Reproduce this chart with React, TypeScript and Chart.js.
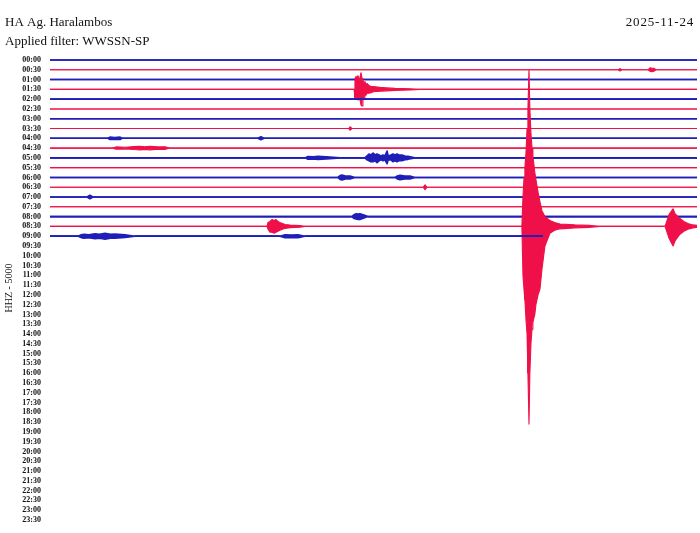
import { useEffect, useRef } from "react";
import { Chart, registerables } from "chart.js";

Chart.register(...registerables);

const STATION = "HA Ag. Haralambos";
const FILTER = "Applied filter: WWSSN-SP";
const DATE = "2025-11-24";
const CHANNEL = "HHZ - 5000";

const traceLabels = [
  "00:00", "00:30", "01:00", "01:30", "02:00", "02:30", "03:00", "03:30",
  "04:00", "04:30", "05:00", "05:30", "06:00", "06:30", "07:00", "07:30",
  "08:00", "08:30", "09:00", "09:30", "10:00", "10:30", "11:00", "11:30",
  "12:00", "12:30", "13:00", "13:30", "14:00", "14:30", "15:00", "15:30",
  "16:00", "16:30", "17:00", "17:30", "18:00", "18:30", "19:00", "19:30",
  "20:00", "20:30", "21:00", "21:30", "22:00", "22:30", "23:00", "23:30",
];

const MINUTES_PER_TRACE = 30;
const TRACE_SPACING = 10; // amplitude units between two traces
const RECORDED_TRACES = 19; // 00:00 .. 09:00
const LAST_TRACE_END = 22.86; // minutes recorded in the 09:00 trace

// events: [minute, up amplitude, down amplitude]
const ev0030 = [[26.34, 0, 0], [26.43, 1.2, 1.2], [26.52, 0, 0], [27.73, 0, 0], [27.82, 2, 1.5], [27.91, 1.5, 2], [28.0, 1.5, 1.5], [28.1, 0, 0]];
const ev0130 = [
  [14.1, 0, 0], [14.14, 11, 9], [14.19, 13, 10], [14.23, 9, 8], [14.28, 14, 11], [14.33, 10, 9],
  [14.37, 12, 10], [14.42, 17, 16], [14.47, 11, 17], [14.51, 9, 8], [14.56, 7, 9], [14.6, 8, 6],
  [14.65, 5, 6], [14.7, 6, 4], [14.79, 4, 4], [14.88, 3, 3.5], [15.0, 3, 2.5], [15.3, 2, 2],
  [15.6, 1.5, 1.5], [16.0, 1, 1], [16.7, 0.6, 0.6], [17.16, 0, 0],
];
const ev0330 = [[13.86, 0, 0], [13.91, 1.8, 1.8], [14.0, 0, 0]];
const ev0400 = [[2.69, 0, 0], [2.78, 1.2, 1.2], [3.0, 0.8, 0.8], [3.25, 1.2, 1.2], [3.34, 0, 0], [9.64, 0, 0], [9.78, 1.5, 1.5], [9.92, 0, 0]];
const ev0430 = [[2.87, 0, 0], [3.06, 1.2, 1.2], [3.5, 0.8, 0.8], [3.9, 1.5, 1.5], [4.17, 1.8, 1.8], [4.4, 1.3, 1.3], [4.64, 1.8, 1.8], [5.0, 1.2, 1.2], [5.33, 1.3, 1.3], [5.56, 0, 0]];
const ev0500 = [
  [11.82, 0, 0], [11.96, 1.3, 1.3], [12.2, 1, 1], [12.43, 1.5, 1.5], [12.98, 0.8, 0.8], [13.45, 0, 0],
  [14.6, 0, 0], [14.7, 2, 2], [14.79, 4, 3], [14.88, 3, 4], [14.98, 5, 4], [15.07, 3, 3], [15.16, 4, 5],
  [15.26, 3, 3], [15.35, 2, 2], [15.44, 3, 3], [15.53, 2, 2], [15.63, 7, 6], [15.68, 2, 2], [15.81, 3, 2],
  [15.9, 4, 4], [16.0, 3, 3], [16.09, 4, 4], [16.18, 3, 3], [16.32, 3, 3], [16.46, 2, 2], [16.6, 1.5, 1.5],
  [16.92, 0, 0],
];
const ev0600 = [[13.35, 0, 0], [13.45, 2, 2], [13.54, 2.5, 2.5], [13.7, 1.5, 1.5], [13.91, 1.5, 1.5], [14.14, 0, 0], [16.0, 0, 0], [16.1, 1.5, 1.5], [16.23, 2.2, 2.2], [16.45, 1.5, 1.5], [16.69, 1.5, 1.5], [16.92, 0, 0]];
const ev0630 = [[17.3, 0, 0], [17.39, 2.5, 2.5], [17.48, 0, 0]];
const ev0700 = [[1.72, 0, 0], [1.85, 1.8, 1.8], [1.99, 0, 0]];
const ev0800 = [[14.0, 0, 0], [14.1, 2, 2], [14.19, 3, 2.5], [14.28, 2.5, 3], [14.37, 3, 3], [14.56, 1.5, 1.5], [14.74, 0, 0]];
const ev0830 = [
  [10.06, 0, 0], [10.11, 4, 3], [10.2, 5, 6], [10.3, 7, 6], [10.39, 6, 7], [10.48, 7, 6], [10.57, 5, 5],
  [10.66, 4, 4], [10.78, 3, 3], [10.9, 2, 2], [11.13, 1.3, 1.3], [11.59, 0.8, 0.8], [11.82, 0, 0],
  [21.88, 0, 0], [21.93, 30, 50], [21.98, 50, 65], [22.02, 60, 75], [22.07, 75, 95], [22.12, 100, 110],
  [22.16, 120, 150], [22.21, 160, 202], [22.25, 120, 150], [22.3, 95, 120], [22.35, 80, 105],
  [22.39, 72, 98], [22.48, 55, 90], [22.53, 48, 80], [22.63, 35, 70], [22.72, 25, 64], [22.81, 16, 44],
  [22.95, 10, 20], [23.18, 6, 7], [23.4, 4, 4], [23.65, 2.5, 2.5], [24.34, 1.5, 1.5], [25.0, 1, 1],
  [25.5, 0, 0],
  [28.52, 0, 0], [28.61, 6, 6], [28.7, 12, 12], [28.79, 15, 16], [28.89, 18, 20], [28.98, 13, 15],
  [29.07, 11, 12], [29.21, 8, 8], [29.39, 5, 5], [29.58, 3, 3], [29.81, 1.5, 1.5], [30, 1, 1],
];
const ev0900 = [
  [1.3, 0, 0], [1.45, 1.5, 1.5], [1.58, 2, 2], [1.8, 1.5, 1.5], [2.09, 2.5, 2.5], [2.3, 2, 2],
  [2.55, 3, 3], [2.8, 2, 2], [3.01, 2.2, 2.2], [3.48, 1.3, 1.3], [3.94, 0, 0],
  [10.66, 0, 0], [10.9, 1.5, 1.5], [11.2, 1.2, 1.2], [11.5, 1.5, 1.5], [11.82, 0, 0],
];

const traceEvents: Record<number, number[][]> = {
  1: ev0030, 3: ev0130, 7: ev0330, 8: ev0400, 9: ev0430, 10: ev0500,
  12: ev0600, 13: ev0630, 14: ev0700, 16: ev0800, 17: ev0830, 18: ev0900,
};

const BLUE = "#1f1fb8";
const RED = "#ef1049";

// layout: trace 00:00 at y=60px, trace 23:30 at y=520px
const PX_PER_UNIT = (520 - 60) / ((traceLabels.length - 1) * TRACE_SPACING);
const AREA_TOP = 50;
const AREA_BOTTOM_PAD = 5;
const Y_MAX = (60 - AREA_TOP) / PX_PER_UNIT;
const Y_MIN = -(traceLabels.length - 1) * TRACE_SPACING - (533 - AREA_BOTTOM_PAD - 520) / PX_PER_UNIT;

function buildDatasets() {
  const sets: any[] = [];
  for (let r = 0; r < RECORDED_TRACES; r++) {
    const base = -r * TRACE_SPACING;
    const end = r === RECORDED_TRACES - 1 ? LAST_TRACE_END : MINUTES_PER_TRACE;
    const ev = traceEvents[r] || [];
    const up: { x: number; y: number }[] = [{ x: 0, y: base }];
    const dn: { x: number; y: number }[] = [{ x: 0, y: base }];
    ev.forEach((e) => {
      up.push({ x: e[0], y: base + e[1] });
      dn.push({ x: e[0], y: base - e[2] });
    });
    if (up[up.length - 1].x < end) {
      up.push({ x: end, y: base });
      dn.push({ x: end, y: base });
    }
    const color = r % 2 === 0 ? BLUE : RED;
    const width = r % 2 === 0 ? 1.6 : 1.1;
    const common = {
      borderColor: color,
      backgroundColor: color,
      borderWidth: width,
      pointRadius: 0,
      tension: 0,
      borderJoinStyle: "round",
      order: 1000 - r,
    };
    sets.push({ ...common, data: up, fill: "+1" });
    sets.push({ ...common, data: dn, fill: false });
  }
  return sets;
}

const textPlugin = {
  id: "heliText",
  afterDraw(chart: any) {
    const ctx = chart.ctx;
    ctx.save();
    ctx.fillStyle = "#111";
    ctx.font = "13px 'Liberation Serif'";
    ctx.textBaseline = "alphabetic";
    ctx.textAlign = "left";
    ctx.fillText(STATION, 5, 26);
    ctx.fillText(FILTER, 5, 45);
    ctx.textAlign = "right";
    try { (ctx as any).letterSpacing = "0.8px"; } catch (e) { /* ignore */ }
    ctx.fillText(DATE, 694, 26);
    try { (ctx as any).letterSpacing = "0px"; } catch (e) { /* ignore */ }
    ctx.translate(9.5, 288);
    ctx.rotate(-Math.PI / 2);
    ctx.font = "10px 'Liberation Serif'";
    ctx.textAlign = "center";
    ctx.textBaseline = "middle";
    ctx.fillText(CHANNEL, 0, 0);
    ctx.restore();
  },
};

export default function App() {
  const ref = useRef<HTMLCanvasElement | null>(null);
  useEffect(() => {
    if (!ref.current) return;
    const chart = new Chart(ref.current, {
      type: "line",
      data: { datasets: buildDatasets() },
      options: {
        animation: false,
        responsive: true,
        maintainAspectRatio: false,
        events: [],
        layout: { padding: { left: 0, right: 3, top: AREA_TOP, bottom: AREA_BOTTOM_PAD } },
        plugins: {
          legend: { display: false },
          tooltip: { enabled: false },
          title: { display: false },
        },
        scales: {
          x: {
            type: "linear",
            min: 0,
            max: MINUTES_PER_TRACE,
            display: false,
          },
          y: {
            type: "linear",
            min: Y_MIN,
            max: Y_MAX,
            border: { display: false },
            grid: {
              display: true,
              drawOnChartArea: false,
              drawTicks: true,
              tickLength: 9,
              color: "rgba(0,0,0,0)",
            },
            afterBuildTicks: (scale: any) => {
              scale.ticks = traceLabels.map((_, i) => ({ value: -i * TRACE_SPACING }));
            },
            afterFit: (scale: any) => {
              scale.width = 50;
            },
            ticks: {
              autoSkip: false,
              padding: 0,
              color: "#111",
              font: { family: "'Liberation Serif'", size: 8, weight: "bold" },
              callback: (v: any) => traceLabels[Math.round(-Number(v) / TRACE_SPACING)] ?? "",
            },
          },
        },
      },
      plugins: [textPlugin],
    } as any);
    return () => chart.destroy();
  }, []);
  return (
    <div style={{ position: "fixed", left: 0, top: 0, width: 700, height: 533, background: "#fff" }}>
      <canvas ref={ref} />
    </div>
  );
}
